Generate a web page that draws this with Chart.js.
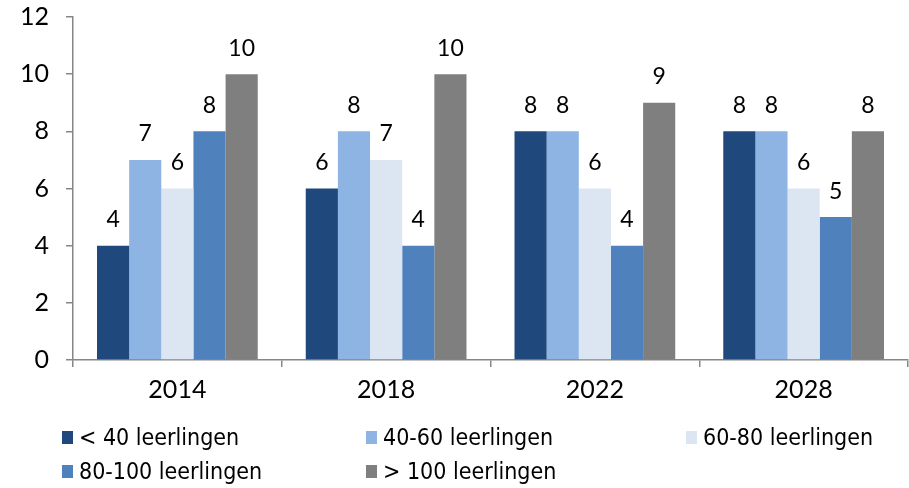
<!DOCTYPE html>
<html>
<head>
<meta charset="utf-8">
<script src="https://cdn.jsdelivr.net/npm/chart.js@4.4.1/dist/chart.umd.min.js"></script>
<style>
  html, body { margin: 0; padding: 0; background: #fff; }
  #wrap { position: relative; width: 909px; height: 488px; }
  #legend { position: absolute; left: 0; top: 0; width: 909px; height: 488px; pointer-events: none;
            font-family: "Liberation Sans Narrow", "DejaVu Sans Condensed", sans-serif; font-size: 23px; color: #000; }
  .item { position: absolute; display: flex; align-items: center; white-space: nowrap; }
  .box { width: 11px; height: 13px; margin-right: 6px; }
</style>
</head>
<body>
<div id="wrap">
  <canvas id="c" width="909" height="488"></canvas>
  <div id="legend"></div>
</div>
<script>
// --- DATA ---
const years = ["2014", "2018", "2022", "2028"];
const lt40 = [4, 6, 8, 8];
const from40to60 = [7, 8, 8, 8];
const from60to80 = [6, 7, 6, 6];
const from80to100 = [8, 4, 4, 5];
const gt100 = [10, 10, 9, 8];
const yTicks = [0, 2, 4, 6, 8, 10, 12];

const seriesNames = ["< 40 leerlingen", "40-60 leerlingen", "60-80 leerlingen", "80-100 leerlingen", "> 100 leerlingen"];
const seriesColors = ["#1F497D", "#8EB4E3", "#DCE6F2", "#4F81BD", "#7F7F7F"];
const seriesData = [lt40, from40to60, from60to80, from80to100, gt100];

// labels above each bar
const barLabels = {
    id: "barLabels",
    afterDatasetsDraw(chart) {
        const ctx = chart.ctx;
        ctx.save();
        ctx.font = "23px Lato";
        ctx.fillStyle = "#000";
        ctx.textAlign = "center";
        ctx.textBaseline = "middle";
        chart.data.datasets.forEach((ds, i) => {
            chart.getDatasetMeta(i).data.forEach((bar, j) => {
                ctx.fillText(ds.data[j], bar.x, bar.y - 26);
            });
        });
        ctx.restore();
    }
};

const chart = new Chart(document.getElementById("c"), {
    type: "bar",
    data: {
        labels: years,
        datasets: seriesData.map((d, i) => ({
            label: seriesNames[i],
            data: d,
            backgroundColor: seriesColors[i],
            borderWidth: 0,
            categoryPercentage: 0.77,
            barPercentage: 1.0
        }))
    },
    options: {
        responsive: false,
        animation: false,
        layout: { padding: { left: 0, right: 1, top: 17, bottom: 78 } },
        plugins: { legend: { display: false }, tooltip: { enabled: false } },
        scales: {
            x: {
                grid: { offset: true, drawOnChartArea: false, drawTicks: true, tickLength: 7, color: "#868686", lineWidth: 1.5 },
                border: { color: "#868686", width: 1.5 },
                ticks: { font: { family: "Lato", size: 25 }, color: "#000", padding: 8 },
                afterFit: (s) => { s.height = 50; s.paddingLeft = 0; s.paddingRight = 0; }
            },
            y: {
                min: 0, max: 12,
                afterBuildTicks: (s) => { s.ticks = yTicks.map(v => ({ value: v })); },
                grid: { drawOnChartArea: false, drawTicks: true, tickLength: 7, color: "#868686", lineWidth: 1.5 },
                border: { color: "#868686", width: 1.5 },
                ticks: { font: { family: "Lato", size: 25 }, color: "#000", padding: 17 },
                afterFit: (s) => { s.width = 73; s.paddingTop = 0; s.paddingBottom = 0; }
            }
        }
    },
    plugins: [barLabels]
});

// --- HTML legend in a 3-column grid ---
const legendPos = [[62, 438], [366, 438], [686, 438], [62, 472], [366, 472]];
const legend = document.getElementById("legend");
seriesNames.forEach((name, i) => {
    const item = document.createElement("div");
    item.className = "item";
    item.style.left = legendPos[i][0] + "px";
    item.style.top = (legendPos[i][1] - 14) + "px";
    item.innerHTML = `<span class="box" style="background:${seriesColors[i]}"></span><span>${name}</span>`;
    legend.appendChild(item);
});
</script>
</body>
</html>
